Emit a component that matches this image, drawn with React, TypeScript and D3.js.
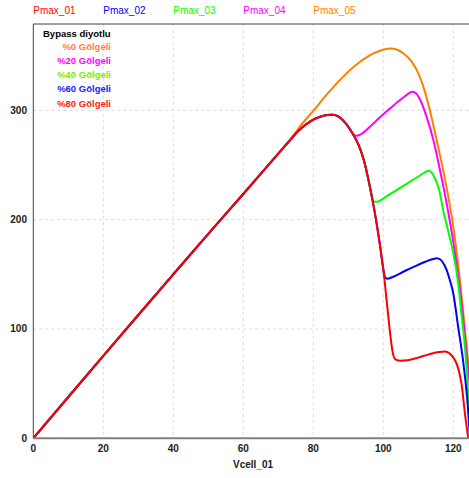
import React from 'react';
import * as d3 from 'd3';

type Pt = [number, number];

const xTicks = [0, 20, 40, 60, 80, 100, 120];
const yTicks = [0, 100, 200, 300];
const gridX = [20, 40, 60, 80, 100, 120];
const gridY = [100, 200, 300];

const seriesNames = ['Pmax_01', 'Pmax_02', 'Pmax_03', 'Pmax_04', 'Pmax_05'];
const seriesColors = ['#ff0000', '#0000ff', '#00ff00', '#ff00ff', '#ff8000'];

const noteTitle = 'Bypass diyotlu';
const noteLabels = ['%0 Gölgeli', '%20 Gölgeli', '%40 Gölgeli', '%60 Gölgeli', '%80 Gölgeli'];
const noteColors = ['#ff8040', '#ff00ff', '#77ee00', '#2020ff', '#ff2020'];

// Common linear rise (all curves coincide here)
const sharedRise: Pt[] = [
  [0, 0], [10, 37.8], [20, 75.4], [30, 112.8], [40, 150], [50, 187],
  [60, 223.5], [70, 260.5], [73.3, 272.5],
];

// Pmax_01 (red, %80 shaded) after the rise
const redTail: Pt[] = [
  [76, 282], [78, 287.3], [80, 291.5], [82, 294.2], [84, 295.7], [85.5, 296],
  [87, 294.7], [88.5, 290.8], [90, 285], [91.5, 277.5], [93, 268], [94.5, 254],
  [96, 233], [97.5, 208], [99, 178], [100, 155], [101, 125], [102, 95],
  [102.8, 77], [103.6, 72], [105, 71], [107, 71.4], [110, 73.8], [113, 76.8],
  [116, 79], [117.6, 79.5], [119, 77.5], [120.5, 71.5], [121.5, 63],
  [122.4, 49], [123.4, 21], [124.3, 0],
];

// Pmax_02 (blue, %60) branch after red's first hump
const blueBranchV = 100;
const blueTail: Pt[] = [
  [100.5, 147.5], [101.2, 146], [102.5, 147.3], [106, 152.8], [109, 157.3],
  [112, 161.5], [114, 163.8], [115.3, 164.7], [116.3, 163.5], [117.3, 159.5],
  [118.1, 154], [119, 145], [120, 132.7], [121.4, 102], [122.9, 68.6],
  [124.1, 32], [124.8, 0],
];

// Pmax_03 (green, %40)
const greenBranchV = 96;
const greenTail: Pt[] = [
  [96.8, 220], [97.4, 216.5], [98.2, 216.3], [99, 217.3], [101, 221.5],
  [104, 227.5], [107, 233.5], [110, 239.5], [112, 243.5], [112.8, 244.8],
  [113.6, 243.8], [114.6, 239], [115.9, 228], [117.3, 206], [118.6, 189],
  [120, 170], [121.4, 142], [122.4, 112], [123.4, 81], [124, 55],
  [124.5, 29], [125.1, 0],
];

// Pmax_04 (magenta, %20)
const magentaBranchV = 90;
const magentaTail: Pt[] = [
  [91.2, 279], [92, 276.8], [93, 277.3], [94, 279], [96, 284.5], [98, 290.5],
  [100, 296.5], [102, 302], [104, 307.5], [106, 312.5], [107.5, 316],
  [108.3, 317], [109.2, 316], [110.5, 310], [112.4, 294], [114.3, 273],
  [116.2, 245.5], [118.1, 215], [120, 180], [122, 134], [124, 72],
  [125, 40], [126, 0],
];

// Pmax_05 (orange, %0)
const orangeTail: Pt[] = [
  [76, 284.5], [80, 299.5], [84, 315], [88, 329], [92, 341], [96, 350],
  [100, 355.5], [102, 356.5], [104, 355.5], [106, 351.5], [108, 345],
  [110, 334], [112, 316], [114, 291], [116, 262], [118, 231], [120, 194],
  [122, 142], [124, 78], [125, 45], [126.2, 0],
];

const redPts: Pt[] = [...sharedRise, ...redTail];
const prefix = (v: number) => redPts.filter((p) => p[0] <= v);
const bluePts: Pt[] = [...prefix(blueBranchV), ...blueTail];
const greenPts: Pt[] = [...prefix(greenBranchV), ...greenTail];
const magentaPts: Pt[] = [...prefix(magentaBranchV), ...magentaTail];
const orangePts: Pt[] = [...sharedRise, ...orangeTail];

const seriesData: Pt[][] = [redPts, bluePts, greenPts, magentaPts, orangePts];

const W = 469;
const H = 478;
const left = 33.3;
const top = 24;
const bottom = 438.3;
const right = 469;

export default function App() {
  const x = d3.scaleLinear().domain([0, 124.5]).range([left, right]);
  const y = d3.scaleLinear().domain([0, 379]).range([bottom, top]);
  const line = d3
    .line<Pt>()
    .x((d) => x(d[0]))
    .y((d) => y(d[1]))
    .curve(d3.curveMonotoneX);

  const font = "'Liberation Sans', Arial, sans-serif";
  const order = [4, 3, 2, 1, 0];

  return (
    <svg
      width={W}
      height={H}
      style={{ position: 'absolute', left: 0, top: 0, background: '#fff' }}
      fontFamily={font}
    >
      <defs>
        <clipPath id="plot">
          <rect x={left} y={top} width={right - left} height={bottom - top} />
        </clipPath>
      </defs>
      <rect x={0} y={0} width={W} height={H} fill="#fff" />

      {/* grid */}
      {gridX.map((v) => (
        <line
          key={'gx' + v}
          x1={x(v)}
          x2={x(v)}
          y1={top}
          y2={bottom}
          stroke="#dcdcdc"
          strokeDasharray="3,3"
        />
      ))}
      {gridY.map((v) => (
        <line
          key={'gy' + v}
          x1={left}
          x2={right}
          y1={y(v)}
          y2={y(v)}
          stroke="#dcdcdc"
          strokeDasharray="3,3"
        />
      ))}

      {/* series */}
      <g clipPath="url(#plot)">
        {order.map((i) => (
          <path
            key={seriesNames[i]}
            d={line(seriesData[i]) || ''}
            fill="none"
            stroke={seriesColors[i]}
            strokeWidth={2}
            strokeLinejoin="round"
          />
        ))}
      </g>

      {/* frame */}
      <line x1={left} x2={right} y1={top} y2={top} stroke="#404040" strokeWidth={1} />
      <line x1={left} x2={left} y1={top} y2={bottom} stroke="#404040" strokeWidth={1} />
      <line x1={left} x2={right} y1={bottom} y2={bottom} stroke="#808080" strokeWidth={2} />

      {/* y ticks */}
      {yTicks.map((v) => (
        <text
          key={'yt' + v}
          x={27}
          y={y(v)}
          dy="0.35em"
          textAnchor="end"
          fontSize={10}
          fontWeight="bold"
          fill="#202020"
        >
          {v}
        </text>
      ))}
      {/* x ticks */}
      {xTicks.map((v) => (
        <text
          key={'xt' + v}
          x={x(v)}
          y={452}
          textAnchor="middle"
          fontSize={10}
          fontWeight="bold"
          fill="#202020"
        >
          {v}
        </text>
      ))}
      <text x={253} y={468} textAnchor="middle" fontSize={10} fontWeight="bold" fill="#202020">
        Vcell_01
      </text>

      {/* top legend */}
      {seriesNames.map((n, i) => (
        <text key={'lg' + n} x={x(i * 20)} y={14} fontSize={10} fill={seriesColors[i]}>
          {n}
        </text>
      ))}

      {/* annotation */}
      <text x={43} y={36.7} fontSize={9.5} fontWeight="bold" fill="#000">
        {noteTitle}
      </text>
      {noteLabels.map((t, i) => (
        <text
          key={'nt' + i}
          x={111}
          y={50 + i * 14.15}
          textAnchor="end"
          fontSize={9.5}
          fontWeight="bold"
          fill={noteColors[i]}
        >
          {t}
        </text>
      ))}
    </svg>
  );
}
